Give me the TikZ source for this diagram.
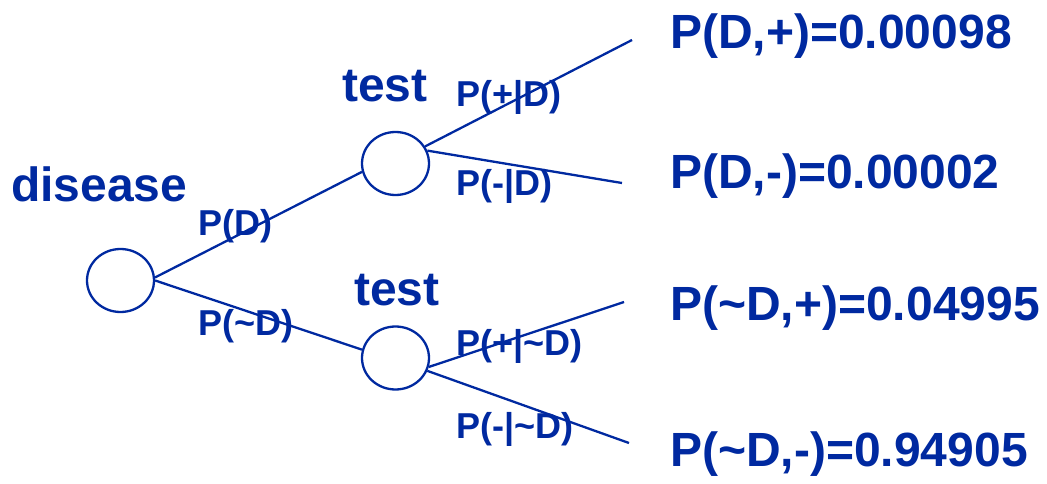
\documentclass[tikz,border=0pt]{standalone}
\usepackage{fontspec}
\setmainfont{Liberation Sans}
\usetikzlibrary{shapes.geometric}
\definecolor{treeblue}{RGB}{0,41,160}
\begin{document}
\begin{tikzpicture}[x=1pt,y=-1pt,
  chance/.style={ellipse,draw=treeblue,line width=2.3pt,minimum width=67pt,minimum height=63pt,inner sep=0pt},
  branch/.style={draw=treeblue,line width=2.3pt},
  bigtext/.style={text=treeblue,inner sep=0pt,anchor=base west,font=\bfseries\fontsize{48}{50}\selectfont},
  edgetext/.style={text=treeblue,inner sep=0pt,anchor=base west,font=\bfseries\fontsize{36}{38}\selectfont}]
\useasboundingbox (0,0) rectangle (1047,484);

% chance nodes
\node[chance] (root) at (120.5,280.5) {};
\node[chance] (tD)   at (395.5,163.5) {};
\node[chance] (tnD)  at (395.5,358) {};

% free ends of the leaf branches
\coordinate (e1) at (632,40);
\coordinate (e2) at (622,183);
\coordinate (e3) at (624,302);
\coordinate (e4) at (629,443);

% branches
\draw[branch] (root.5) -- (tD.194);
\draw[branch] (root.0) -- (tnD.166);
\draw[branch] (tD.30) -- (e1);
\draw[branch] (tD.22) -- (e2);
\draw[branch] (tnD.-15) -- (e3);
\draw[branch] (tnD.-22) -- (e4);

% node titles
\node[bigtext] (ldisease) at (11,201.5) {disease};
\node[bigtext] (ltestD)   at (342,101.5) {test};
\node[bigtext] (ltestnD)  at (354,305) {test};

% branch probabilities
\node[edgetext] (pD)   at (198,235.5) {P(D)};
\node[edgetext] (pnD)  at (198,335) {P(\char`\~D)};
\node[edgetext] (ppD)  at (456,106.5) {P(+|D)};
\node[edgetext] (pmD)  at (456,195) {P(-|D)};
\node[edgetext] (ppnD) at (456,355) {P(+|\char`\~D)};
\node[edgetext] (pmnD) at (456,438) {P(-|\char`\~D)};

% joint probabilities
\node[bigtext] (j1) at (670,48.3) {P(D,+)=0.00098};
\node[bigtext] (j2) at (670,188.3) {P(D,-)=0.00002};
\node[bigtext] (j3) at (670,320) {P(\char`\~D,+)=0.04995};
\node[bigtext] (j4) at (670,466) {P(\char`\~D,-)=0.94905};
\end{tikzpicture}
\end{document}
